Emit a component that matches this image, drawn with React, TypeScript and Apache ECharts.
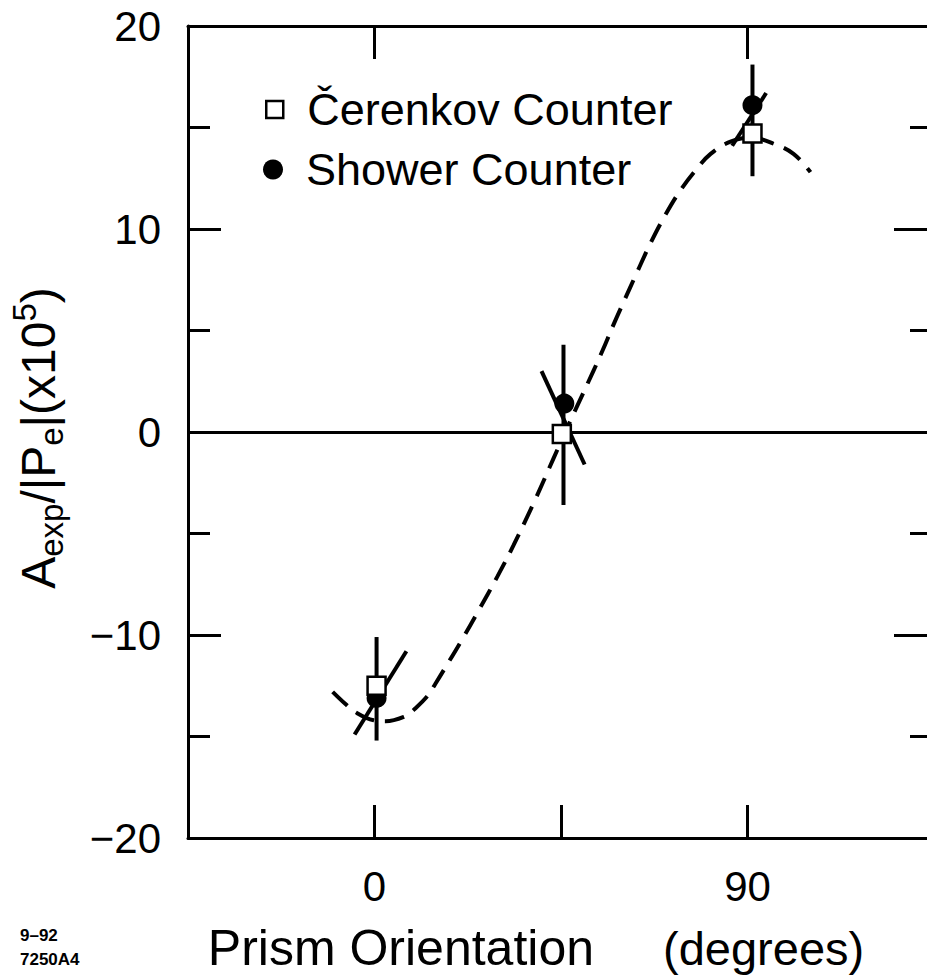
import React, { useEffect, useRef } from "react";
import * as echarts from "echarts";

// ---- data ----
const cerenkovPoints: number[][] = [
  [0.5, -12.5],
  [45.2, -0.1],
  [91.2, 14.7],
];
const showerPoints: number[][] = [
  [0.5, -13.1],
  [45.8, 1.4],
  [91.2, 16.1],
];
// [x, low, high]
const errorBars: number[][] = [
  [0.5, -15.2, -10.1],
  [45.6, -3.6, 4.3],
  [91.2, 12.6, 18.1],
];
// [x1, y1, x2, y2]
const slopeSegments: number[][] = [
  [-4.8, -14.9, 7.7, -10.8],
  [40.3, 3.0, 50.7, -1.6],
  [86.3, 14.1, 94.5, 16.7],
];
// dashed fit curve
const fitCurve: number[][] = [
  [-10.1, -12.8],
  [-7.0, -13.4],
  [-4.6, -13.8],
  [-0.2, -14.2],
  [2.7, -14.25],
  [7.5, -14.0],
  [9.4, -13.7],
  [12.8, -13.0],
  [14.7, -12.4],
  [17.1, -11.6],
  [21.2, -10.2],
  [25.1, -8.8],
  [29.7, -7.1],
  [33.5, -5.6],
  [38.4, -3.5],
  [43.2, -1.3],
  [45.6, -0.2],
  [48.5, 1.1],
  [52.8, 3.0],
  [55.0, 4.0],
  [57.7, 5.3],
  [60.1, 6.4],
  [63.2, 7.8],
  [66.6, 9.3],
  [70.2, 10.7],
  [73.8, 11.9],
  [77.5, 12.9],
  [81.1, 13.7],
  [85.9, 14.3],
  [91.0, 14.5],
  [96.3, 14.2],
  [101.1, 13.7],
  [105.2, 12.8],
];
const xBottomTicks = [0, 45, 90];
const xTopTicks = [0, 90];
const xLabels = [0, 90];
const seriesNames = ["Čerenkov Counter", "Shower Counter"];
const figureCodes = ["9–92", "7250A4"];

const FONT = "'Liberation Sans', Arial, Helvetica, sans-serif";

export default function App() {
  const ref = useRef<HTMLDivElement>(null);
  useEffect(() => {
    if (!ref.current) return;
    const chart = echarts.init(ref.current, null, { renderer: "svg" });
    const axisLine = { show: true, onZero: false, lineStyle: { color: "#000", width: 3 } };
    const tickStyle = { color: "#000", width: 3 };
    const option: any = {
      animation: false,
      backgroundColor: "#fff",
      textStyle: { fontFamily: FONT, color: "#000" },
      grid: { left: 188, top: 26, right: 0, bottom: 138, containLabel: false },
      legend: [
        {
          data: [
            {
              name: seriesNames[0],
              icon: "rect",
              itemStyle: { color: "#fff", borderColor: "#000", borderWidth: 2.5, opacity: 1 },
            },
          ],
          left: 265,
          top: 87,
          padding: 0,
          itemWidth: 17,
          itemHeight: 17,
          selectedMode: false,
          textStyle: { fontSize: 45, color: "#000", fontFamily: FONT, padding: [0, 0, 0, 19] },
        },
        {
          data: [{ name: seriesNames[1], icon: "circle", itemStyle: { color: "#000", opacity: 1 } }],
          left: 263,
          top: 147,
          padding: 0,
          itemWidth: 20,
          itemHeight: 20,
          selectedMode: false,
          textStyle: { fontSize: 45, color: "#000", fontFamily: FONT, padding: [0, 0, 0, 18] },
        },
      ],
      xAxis: [
        {
          type: "value",
          position: "bottom",
          min: -45,
          max: 135,
          interval: 45,
          axisLine,
          splitLine: { show: false },
          axisTick: {
            show: true,
            inside: true,
            length: 33,
            customValues: xBottomTicks,
            lineStyle: tickStyle,
          },
          axisLabel: {
            show: true,
            customValues: xLabels,
            margin: 27,
            fontSize: 42,
            color: "#000",
            fontFamily: FONT,
          },
          name: "{a|Prism Orientation}{b|(degrees)}",
          nameLocation: "middle",
          nameGap: 85,
          nameTextStyle: {
            padding: [0, 50, 0, 0],
            rich: {
              a: { fontSize: 50, fontFamily: FONT, color: "#000" },
              b: { fontSize: 47, fontFamily: FONT, color: "#000", padding: [0, 0, 0, 69] },
            },
          },
        },
        {
          type: "value",
          position: "top",
          min: -45,
          max: 135,
          interval: 45,
          axisLine,
          splitLine: { show: false },
          axisTick: {
            show: true,
            inside: true,
            length: 33,
            customValues: xTopTicks,
            lineStyle: tickStyle,
          },
          axisLabel: { show: false },
        },
      ],
      yAxis: [
        {
          type: "value",
          position: "left",
          min: -20,
          max: 20,
          interval: 10,
          axisLine,
          splitLine: { show: false },
          axisTick: { show: true, inside: true, length: 33, lineStyle: tickStyle },
          minorTick: { show: true, splitNumber: 2, length: 22, lineStyle: tickStyle },
          axisLabel: {
            margin: 27,
            fontSize: 42,
            color: "#000",
            fontFamily: FONT,
            formatter: (v: number) => (v < 0 ? "\u2212" + Math.abs(v) : String(v)),
          },
          name: "{m|A}{s|exp}{m|/|P}{s|e}{m||(x10}{u|5}{m|)}",
          nameLocation: "middle",
          nameRotate: 90,
          nameGap: 120,
          nameTextStyle: {
            padding: [0, 12, 0, 0],
            rich: {
              m: { fontSize: 48, lineHeight: 60, fontFamily: FONT, color: "#000" },
              s: { fontSize: 33, lineHeight: 30, verticalAlign: "bottom", fontFamily: FONT, color: "#000" },
              u: { fontSize: 33, lineHeight: 32, verticalAlign: "top", fontFamily: FONT, color: "#000" },
            },
          },
        },
        {
          type: "value",
          position: "right",
          min: -20,
          max: 20,
          interval: 10,
          axisLine: { show: false, onZero: false },
          splitLine: { show: false },
          axisTick: { show: true, inside: true, length: 40, lineStyle: tickStyle },
          minorTick: { show: true, splitNumber: 2, length: 24, lineStyle: tickStyle },
          axisLabel: { show: false },
        },
      ],
      graphic: [
        {
          type: "text",
          left: 20,
          top: 927,
          style: { text: figureCodes[0], font: `bold 17px ${FONT}`, fill: "#000" },
        },
        {
          type: "text",
          left: 20,
          top: 951,
          style: { text: figureCodes[1], font: `bold 17px ${FONT}`, fill: "#000" },
        },
      ],
      series: [
        {
          name: "fit",
          type: "line",
          data: fitCurve,
          smooth: 0.4,
          showSymbol: false,
          symbol: "none",
          silent: true,
          z: 2,
          lineStyle: { color: "#000", width: 4, type: [20, 11] },
          markLine: {
            silent: true,
            symbol: ["none", "none"],
            label: { show: false },
            lineStyle: { color: "#000", width: 3, type: "solid" },
            data: [{ yAxis: 0 }],
          },
        },
        {
          name: "errors",
          type: "custom",
          data: errorBars,
          z: 3,
          silent: true,
          renderItem: (params: any, api: any) => {
            const p1 = api.coord([api.value(0), api.value(1)]);
            const p2 = api.coord([api.value(0), api.value(2)]);
            return {
              type: "line",
              shape: { x1: p1[0], y1: p1[1], x2: p2[0], y2: p2[1] },
              style: { stroke: "#000", lineWidth: 4 },
            };
          },
        },
        {
          name: "slopes",
          type: "custom",
          data: slopeSegments,
          z: 3,
          silent: true,
          renderItem: (params: any, api: any) => {
            const p1 = api.coord([api.value(0), api.value(1)]);
            const p2 = api.coord([api.value(2), api.value(3)]);
            return {
              type: "line",
              shape: { x1: p1[0], y1: p1[1], x2: p2[0], y2: p2[1] },
              style: { stroke: "#000", lineWidth: 4 },
            };
          },
        },
        {
          name: seriesNames[1],
          type: "scatter",
          data: showerPoints,
          symbol: "circle",
          symbolSize: 20,
          z: 4,
          itemStyle: { color: "#000", opacity: 1 },
        },
        {
          name: seriesNames[0],
          type: "scatter",
          data: cerenkovPoints,
          symbol: "rect",
          symbolSize: 18,
          z: 5,
          itemStyle: { color: "#fff", borderColor: "#000", borderWidth: 2.5, opacity: 1 },
        },
      ],
    };
    chart.setOption(option);
    return () => chart.dispose();
  }, []);
  return (
    <div
      ref={ref}
      style={{ position: "fixed", left: 0, top: 0, width: 934, height: 978, background: "#fff" }}
    />
  );
}
